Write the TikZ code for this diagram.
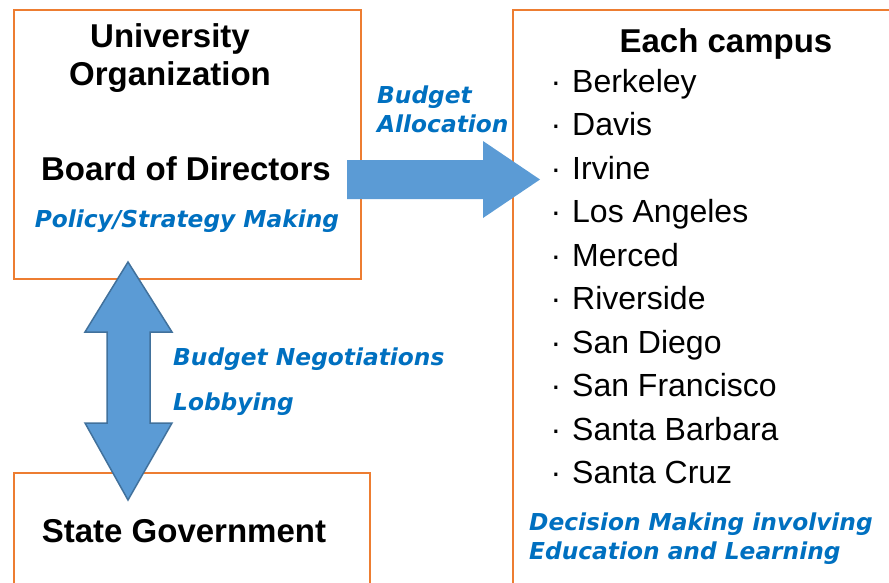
\documentclass[tikz,border=0pt]{standalone}
\usepackage{fontspec}
\setmainfont{Liberation Sans}
\newfontfamily\verdana{DejaVu Sans}
\usetikzlibrary{positioning}

\definecolor{boxorange}{HTML}{ED7D31}
\definecolor{arrowblue}{HTML}{5B9BD5}
\definecolor{arrowedge}{HTML}{41719C}
\definecolor{noteblue}{HTML}{0070C0}

\tikzset{
    orgbox/.style={draw=boxorange, line width=2pt, anchor=north west, inner sep=0pt},
    title/.style={font=\fontsize{33}{36}\selectfont\bfseries, text=black, inner sep=0pt, anchor=base},
    note/.style={font=\verdana\fontsize{23.3}{29}\selectfont\bfseries\itshape, text=noteblue, inner sep=0pt, anchor=base west},
    campus/.style={font=\fontsize{32}{36}\selectfont, text=black, anchor=base west, inner sep=0pt},
    dot/.style={font=\fontsize{32}{36}\selectfont, text=black, inner sep=0pt, anchor=base}
}

\begin{document}
\begin{tikzpicture}[x=1pt, y=-1pt]
    % Picture frame, same size as the original image
    \useasboundingbox (0,0) rectangle (889,582);
    \clip (0,0) rectangle (889,582);

    % The three orange boxes (two of them run off the page)
    \node[orgbox, minimum width=347pt, minimum height=269pt] (board) at (13,9) {};
    \node[orgbox, minimum width=356pt, minimum height=160pt] (state) at (13,472) {};
    \node[orgbox, minimum width=420pt, minimum height=620pt] (campus) at (512,9) {};

    % Budget allocation arrow, board -> campus
    \fill[arrowblue] (347,160) -- (483,160) -- (483,141) -- (540,179.5)
        -- (483,218) -- (483,199) -- (347,199) -- cycle;

    % Up/down arrow between board and state government
    \filldraw[fill=arrowblue, draw=arrowedge, line width=1.5pt]
        (128,262) -- (172,332) -- (150,332) -- (150,423) -- (172,423)
        -- (128,500) -- (85,423) -- (107,423) -- (107,332) -- (85,332) -- cycle;

    % Texts of the left boxes
    \node[title] (univ) at (170,47) {University};
    \node[title] (org) at (170,85) {Organization};
    \node[title] (bod) at (186,180) {Board of Directors};
    \node[note, anchor=base] (policy) at (187,227) {Policy/Strategy Making};
    \node[title] (stategov) at (184,542) {State Government};

    % Notes along the arrows
    \node[note] (budget) at (377,103) {Budget};
    \node[note] (alloc) at (377,132) {Allocation};
    \node[note] (nego) at (173,365) {Budget Negotiations};
    \node[note] (lobby) at (173,410) {Lobbying};

    % Campus list
    \node[title] (each) at (726,52) {Each campus};
    \foreach \name [count=\i] in {Berkeley, Davis, Irvine, Los Angeles, Merced,
        Riverside, San Diego, San Francisco, Santa Barbara, Santa Cruz} {
        \node[dot] (dot\i) at (556,{92+43.5*(\i-1)}) {·};
        \node[campus] (camp\i) at (572,{92+43.5*(\i-1)}) {\name};
    }

    \node[note] (decide) at (529,530) {Decision Making involving};
    \node[note] (educ) at (529,559) {Education and Learning};
\end{tikzpicture}
\end{document}
